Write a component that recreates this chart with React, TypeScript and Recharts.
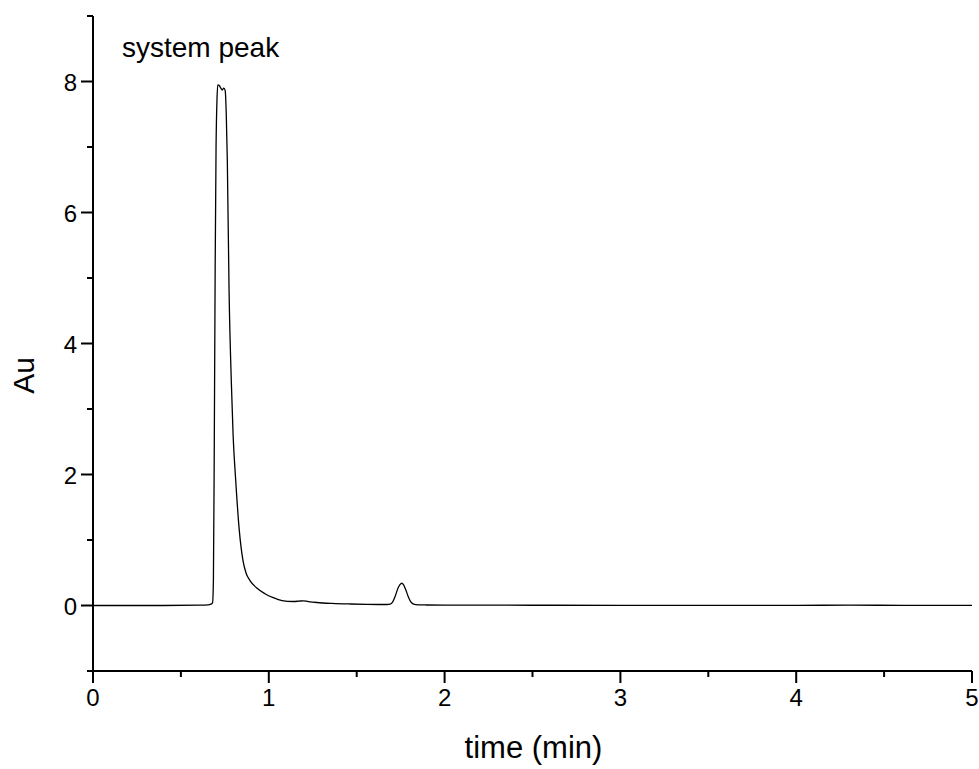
import React from 'react';
import { LineChart, Line, XAxis, YAxis, ReferenceDot } from 'recharts';

const timeMin = [
  0, 0.2, 0.4, 0.6, 0.655, 0.67, 0.68, 0.685, 0.69, 0.695, 0.7, 0.705, 0.71, 0.718,
  0.727, 0.735, 0.744, 0.752, 0.758, 0.764, 0.774, 0.787, 0.797, 0.812, 0.832, 0.853,
  0.87, 0.893, 0.93, 0.978, 1.025, 1.075, 1.138, 1.17, 1.195, 1.225,
  1.274, 1.36, 1.462, 1.56, 1.672, 1.69, 1.704, 1.719, 1.734, 1.746, 1.756, 1.766,
  1.779, 1.794, 1.809, 1.824, 1.85, 1.9, 2.0, 2.5, 3.0, 3.5, 4.0, 4.3, 4.6, 5.0,
];

const absorbance = [
  0, 0, 0, 0.005, 0.01, 0.02, 0.04, 0.4, 2.5, 5.2, 7.0, 7.7, 7.95, 7.94,
  7.9, 7.87, 7.9, 7.86, 7.5, 6.8, 4.8, 3.4, 2.6, 1.9, 1.15, 0.69,
  0.5, 0.38, 0.27, 0.18, 0.12, 0.076, 0.061, 0.066, 0.072, 0.06,
  0.046, 0.032, 0.023, 0.018, 0.015, 0.02, 0.05, 0.14, 0.26, 0.32, 0.34, 0.32,
  0.24, 0.13, 0.05, 0.02, 0.01, 0.008, 0.006, 0.004, 0.003, 0.002, 0.002, 0.005, 0.002, 0.001,
];

const xTicks = [0, 0.5, 1, 1.5, 2, 2.5, 3, 3.5, 4, 4.5, 5];
const yTicks = [-1, 0, 1, 2, 3, 4, 5, 6, 7, 8, 9];
const xLabelValues = [0, 1, 2, 3, 4, 5];
const yLabelValues = [0, 2, 4, 6, 8];

const chartData = timeMin.map((t, i) => ({ t, au: absorbance[i] }));

const FONT = '"Liberation Sans", Arial, sans-serif';

const XTick = (props: any) => {
  const { x, y, payload } = props;
  const major = xLabelValues.includes(payload.value);
  return (
    <g>
      <line x1={x} y1={y} x2={x} y2={y + (major ? 12 : 6)} stroke="#000" strokeWidth={2} />
      {major && (
        <text x={x} y={y + 35} textAnchor="middle" fontFamily={FONT} fontSize={24} fill="#000">
          {payload.value}
        </text>
      )}
    </g>
  );
};

const YTick = (props: any) => {
  const { x, y, payload } = props;
  const major = yLabelValues.includes(payload.value);
  return (
    <g>
      <line x1={x} y1={y} x2={x - (major ? 12 : 6)} y2={y} stroke="#000" strokeWidth={2} />
      {major && (
        <text x={x - 16} y={y + 9} textAnchor="end" fontFamily={FONT} fontSize={24} fill="#000">
          {payload.value}
        </text>
      )}
    </g>
  );
};

const XTitle = (props: any) => {
  const vb = props.viewBox;
  return (
    <text x={vb.x + vb.width / 2 + 1} y={vb.y + 87} textAnchor="middle" fontFamily={FONT} fontSize={31} fill="#000">
      time (min)
    </text>
  );
};

const YTitle = (props: any) => {
  const vb = props.viewBox;
  const cx = 34;
  const cy = vb.y + vb.height / 2 + 32;
  return (
    <text x={cx} y={cy} transform={`rotate(-90 ${cx} ${cy})`} textAnchor="middle" fontFamily={FONT} fontSize={30} fill="#000">
      Au
    </text>
  );
};

const PeakLabel = (props: any) => {
  const vb = props.viewBox;
  return (
    <text x={vb.x} y={vb.y} textAnchor="start" fontFamily={FONT} fontSize={28} fill="#000">
      system peak
    </text>
  );
};

export default function App() {
  return (
    <div style={{ position: 'fixed', left: 0, top: 0, width: 979, height: 769, background: '#fff' }}>
      <LineChart
        width={979}
        height={769}
        data={chartData}
        margin={{ top: 16, right: 7, bottom: 38, left: 33 }}
        style={{ overflow: 'visible' }}
      >
        <XAxis
          dataKey="t"
          type="number"
          domain={[0, 5]}
          ticks={xTicks}
          interval={0}
          tick={<XTick />}
          tickLine={false}
          tickSize={0}
          tickMargin={0}
          height={60}
          axisLine={{ stroke: '#000', strokeWidth: 2 }}
          label={<XTitle />}
        />
        <YAxis
          type="number"
          domain={[-1, 9]}
          ticks={yTicks}
          interval={0}
          tick={<YTick />}
          tickLine={false}
          tickSize={0}
          tickMargin={0}
          width={60}
          axisLine={{ stroke: '#000', strokeWidth: 2 }}
          label={<YTitle />}
        />
        <Line
          type="monotone"
          dataKey="au"
          stroke="#000"
          strokeWidth={1.3}
          dot={false}
          isAnimationActive={false}
        />
        <ReferenceDot x={0.165} y={8.37} r={0} fill="none" stroke="none" label={<PeakLabel />} />
      </LineChart>
    </div>
  );
}
